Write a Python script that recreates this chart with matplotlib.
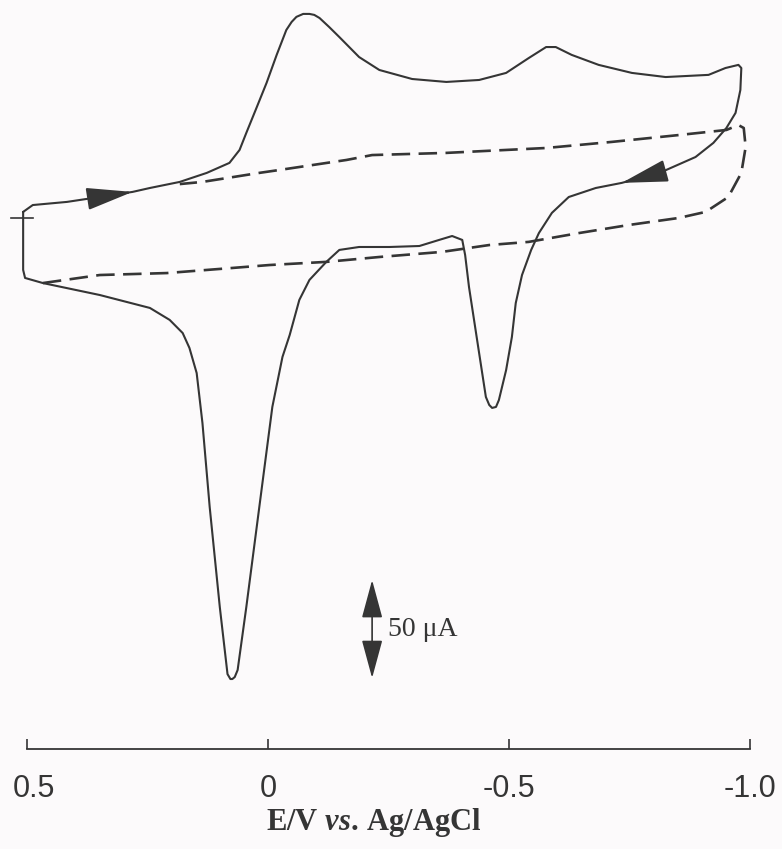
import numpy as np
import matplotlib
matplotlib.use('Agg')
import matplotlib.pyplot as plt
import matplotlib.transforms as mtransforms

# cyclic voltammogram, potential in V vs Ag/AgCl, current in uA
E_cv = [0.508, 0.488, 0.417, 0.363, 0.281, 0.245, 0.183, 0.127, 0.080, 0.059,
        0.045, 0.024, 0.003, -0.018, -0.038, -0.049, -0.059, -0.073, -0.086, -0.096,
        -0.107, -0.127, -0.148, -0.189, -0.231, -0.299, -0.370, -0.438, -0.494, -0.541,
        -0.577, -0.597, -0.630, -0.686, -0.755, -0.825, -0.914, -0.949, -0.976, -0.982,
        -0.980, -0.970, -0.951, -0.924, -0.887, -0.817, -0.734, -0.680, -0.624, -0.589,
        -0.562, -0.546, -0.527, -0.514, -0.506, -0.494, -0.479, -0.473, -0.465, -0.459,
        -0.452, -0.438, -0.417, -0.409, -0.403, -0.382, -0.355, -0.314, -0.252, -0.189,
        -0.148, -0.121, -0.086, -0.065, -0.045, -0.030, -0.009, 0.018, 0.045, 0.063,
        0.069, 0.074, 0.078, 0.084, 0.100, 0.121, 0.136, 0.148, 0.163, 0.177,
        0.204, 0.245, 0.349, 0.467, 0.504, 0.508, 0.508]
I_cv = [3.1, 6.6, 8.2, 10.2, 13.3, 15.3, 18.4, 23.0, 28.1, 34.7,
        43.4, 56.1, 68.9, 83.2, 95.9, 100.0, 102.6, 104.1, 104.1, 103.6,
        102.0, 97.4, 92.3, 82.1, 75.5, 70.9, 69.4, 70.4, 74.0, 81.6,
        87.2, 87.2, 83.2, 78.1, 74.0, 71.9, 73.0, 76.5, 78.1, 76.5,
        65.3, 53.6, 45.9, 38.3, 31.1, 23.5, 17.9, 15.3, 10.7, 2.6,
        -7.7, -16.3, -29.1, -43.4, -60.7, -77.6, -92.9, -96.4, -96.9, -95.4,
        -91.3, -68.9, -35.2, -18.9, -11.2, -9.2, -11.2, -14.3, -14.8, -14.8,
        -16.3, -22.4, -31.6, -41.8, -59.7, -70.9, -96.4, -147.4, -198.5, -230.6,
        -234.2, -235.2, -235.2, -232.7, -198.5, -147.4, -104.6, -79.1, -66.3, -58.7,
        -52.0, -45.9, -39.3, -33.2, -30.6, -26.5, 3.1]

# blank electrolyte (dashed)
E_blank = [0.467, 0.349, 0.210, 0.074, -0.003, -0.121, -0.231, -0.361, -0.459, -0.541,
           -0.645, -0.748, -0.852, -0.908, -0.955, -0.982, -0.991, -0.987, -0.976, -0.951,
           -0.852, -0.713, -0.577, -0.452, -0.370, -0.216, -0.163, -0.024, 0.018, 0.136,
           0.183]
I_blank = [-33.2, -29.1, -28.1, -25.5, -24.0, -22.4, -19.9, -17.3, -13.8, -12.2,
           -7.7, -3.6, 0.0, 3.1, 10.7, 23.0, 36.2, 45.9, 47.4, 44.9,
           42.3, 38.8, 35.7, 34.2, 33.2, 32.1, 29.6, 24.5, 23.0, 18.4,
           17.3]

xticks = [0.5, 0.0, -0.5, -1.0]
xticklabels = ['0.5', '0', '-0.5', '-1.0']

# sweep-direction arrows: (tail index, head index) on the CV trace
arrow_idx = [(3, 4), (45, 46)]

scale_E = -0.216
scale_top = -184.7
scale_uA = 50

ink = '#353535'

plt.rcParams['mathtext.fontset'] = 'custom'
plt.rcParams['mathtext.rm'] = 'Liberation Serif'
plt.rcParams['mathtext.bf'] = 'Liberation Serif:bold'
plt.rcParams['mathtext.it'] = 'Liberation Serif:italic:bold'

fig = plt.figure(figsize=(7.82, 8.49), dpi=100)
fig.patch.set_facecolor('#fcfafb')
ax = fig.add_axes([27 / 782, 100 / 849, 723 / 782, 749 / 849])
ax.set_facecolor('none')

ax.plot(E_cv, I_cv, color=ink, lw=1.5, clip_on=False,
        solid_joinstyle='round', solid_capstyle='round')
ax.plot(E_blank, I_blank, color=ink, lw=1.9, ls=(0, (7, 3.2)), clip_on=False)

# zero-current mark at the start potential
ax.plot([0.533, 0.488], [0.0, 0.0], color=ink, lw=1.2, clip_on=False)

arrow_kw = dict(arrowstyle='-|>,head_length=29,head_width=7', mutation_scale=1,
                color=ink, lw=1.5, shrinkA=0, shrinkB=0)
for i0, i1 in arrow_idx:
    ax.annotate('', xy=(E_cv[i1], I_cv[i1]), xytext=(E_cv[i0], I_cv[i0]),
                arrowprops=arrow_kw)

# current scale bar
ax.annotate('', xy=(scale_E, scale_top), xytext=(scale_E, scale_top - scale_uA),
            arrowprops=dict(arrowstyle='<|-|>,head_length=24,head_width=6.5',
                            mutation_scale=1, color=ink, lw=1.2,
                            shrinkA=0, shrinkB=0))
ax.text(scale_E - 0.033, scale_top - scale_uA / 2, '50 \u03bcA', family='Liberation Serif',
        fontsize=20, color=ink, va='center', ha='left')

ax.set_xlim(0.5, -1.0)
ax.set_ylim(-270.9, 111.2)
for side in ['left', 'right', 'top']:
    ax.spines[side].set_visible(False)
ax.spines['bottom'].set_color(ink)
ax.spines['bottom'].set_linewidth(1.3)
ax.set_yticks([])
ax.set_xticks(xticks)
ax.set_xticklabels(xticklabels, family='Liberation Sans', fontsize=22, color=ink)
ax.tick_params(axis='x', direction='in', length=7.5, width=1.2, color=ink, pad=18)
# first label sits a little right of its tick
first = ax.get_xticklabels()[0]
first.set_transform(first.get_transform() +
                    mtransforms.ScaledTranslation(7 / 100, 0, fig.dpi_scale_trans))
ax.set_xlabel(r'$\mathbf{E/V}\ \mathit{vs}\mathbf{.}\,\mathbf{Ag/AgCl}$', fontsize=22,
              color=ink, va='center')
ax.xaxis.set_label_coords(0.48, -0.0975)

fig.savefig('out.png', dpi=100, facecolor=fig.get_facecolor())
